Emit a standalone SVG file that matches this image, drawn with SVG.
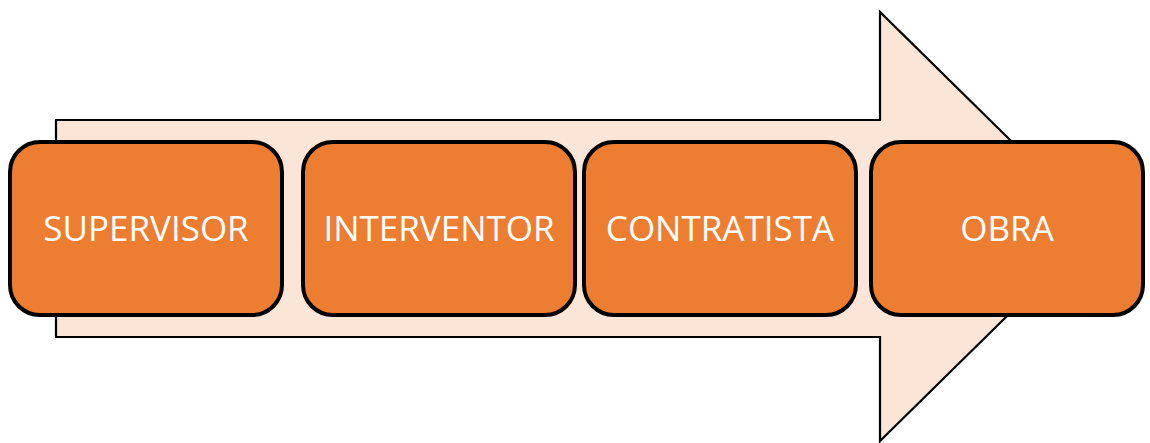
<svg xmlns="http://www.w3.org/2000/svg" width="1150" height="443" viewBox="0 0 1150 443">
<style>
.box{fill:#ED7D31;stroke:#000;stroke-width:4}
.lbl{font-family:"Open Sans","Liberation Sans",sans-serif;font-size:35px;fill:#fff;text-anchor:middle}
</style>
<rect width="1150" height="443" fill="#fff"/>
<g id="arrow">
<polygon points="56,120 880,120 880,12 1098,226.5 880,441 880,337 56,337" fill="#FBE5D6" stroke="#000" stroke-width="2.2"/>
</g>
<g id="supervisor"><rect class="box" x="10" y="142" width="272" height="173" rx="30"/><text class="lbl" x="146" y="241">SUPERVISOR</text></g>
<g id="interventor"><rect class="box" x="303" y="142" width="272" height="173" rx="30"/><text class="lbl" x="439" y="241">INTERVENTOR</text></g>
<g id="contratista"><rect class="box" x="584" y="142" width="272" height="173" rx="30"/><text class="lbl" x="720" y="241">CONTRATISTA</text></g>
<g id="obra"><rect class="box" x="871" y="142" width="272" height="173" rx="30"/><text class="lbl" x="1007" y="241">OBRA</text></g>
<g id="connectors"/>
</svg>
